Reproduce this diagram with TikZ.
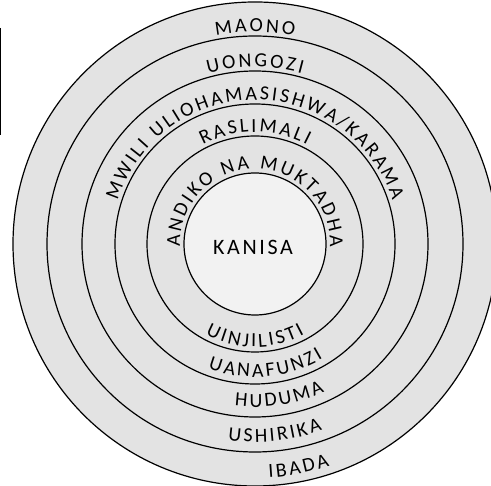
\documentclass[tikz,border=0pt]{standalone}
\usepackage{fontspec}
\usepackage{tikz}
\usetikzlibrary{decorations.text}
\newfontfamily\ringfamily[WordSpace=0.58]{Carlito}
\newfontfamily\corefamily[LetterSpace=12]{Carlito}
\newcommand\ringfont{\ringfamily\fontsize{20bp}{24bp}\selectfont}
\newcommand\corefont{\corefamily\fontsize{22bp}{26bp}\selectfont}
\catcode`\^^^^00a0=12

\begin{document}
\begin{tikzpicture}[x=1bp,y=1bp,
  ringline/.style={line width=1.2bp,black},
  ringtext/.style={decorate,decoration={text along path,
      text={|\ringfont|#1},text align=center}}]
  \useasboundingbox (0,0) rectangle (491,486);
  \coordinate (c) at (255,242);
  \draw[line width=1.3bp] (0.7,458) -- (0.7,351);
  \fill[black!11] (c) circle[radius=242];
  \foreach \r in {242,208,173,140,108}
    \draw[ringline] (c) circle[radius=\r];
  \draw[ringline,fill=black!5] (c) circle[radius=71];
  \node[font=\corefont] (kanisa) at ([shift={(-2,-3)}]c) {KANISA};
  % top rings
  \path[ringtext={M A O N O}] ([shift={(180:212)}]c) arc[start angle=180,end angle=0,radius=212];
  \path[ringtext={U O N G O Z I}] ([shift={(180:177)}]c) arc[start angle=180,end angle=0,radius=177];
  \path[ringtext={M W I L I ^^^^00a0 U L I O H A M A S I S H W A / K A R A M A}] ([shift={(180:144)}]c) arc[start angle=180,end angle=0,radius=144];
  \path[ringtext={R A S L I M A L I}] ([shift={(180:112)}]c) arc[start angle=180,end angle=0,radius=112];
  \path[ringtext={A N D I K O ^^^^00a0 N A ^^^^00a0 M U K T A D H A}] ([shift={(180:75)}]c) arc[start angle=180,end angle=0,radius=75];
  % bottom rings
  \path[ringtext={U I N J I L I S T I}] ([shift={(180:103)}]c) arc[start angle=180,end angle=360,radius=103];
  \path[ringtext={U A N A F U N Z I}] ([shift={(185:133)}]c) arc[start angle=185,end angle=365,radius=133];
  \path[ringtext={H U D U M A}] ([shift={(189:163)}]c) arc[start angle=189,end angle=369,radius=163];
  \path[ringtext={U S H I R I K A}] ([shift={(186:198)}]c) arc[start angle=186,end angle=366,radius=198];
  \path[ringtext={I B A D A}] ([shift={(191:234)}]c) arc[start angle=191,end angle=371,radius=234];
\end{tikzpicture}
\end{document}
